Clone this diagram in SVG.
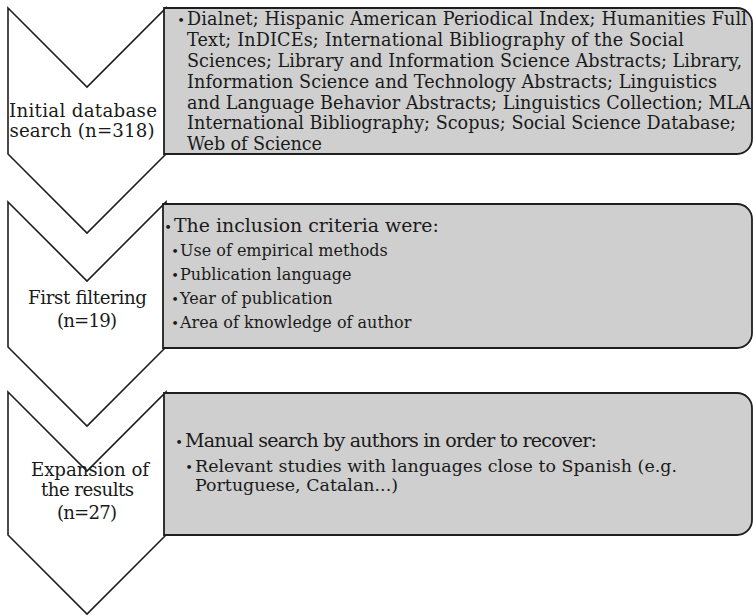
<svg xmlns="http://www.w3.org/2000/svg" width="753" height="616" viewBox="0 0 753 616">
<style>
.chev{fill:#ffffff;stroke:#1e1e1e;stroke-width:1.6;stroke-linejoin:miter}
.box{fill:#cfcfcf;stroke:#1e1e1e;stroke-width:1.8}
text{font-family:"DejaVu Serif","Liberation Serif",serif;fill:#1a1a1a}
.lbl{text-anchor:middle;font-size:18.2px}
.t1{font-size:17.6px}
.t2a{font-size:18.9px}
.t2b{font-size:16px}
.t3a{font-size:19px}
.t3b{font-size:17.4px}
.bul{text-anchor:middle;font-size:13px}
</style>
<rect width="753" height="616" fill="#ffffff"/>
<g id="connectors"></g>
<g id="step1">
<path class="chev" d="M8,8 L87,87 L166,8 V154 L87,233 L8,154 Z"/>
<text class="lbl" x="83" y="117" textLength="148" lengthAdjust="spacing">Initial database</text>
<text class="lbl" x="82" y="137" textLength="145" lengthAdjust="spacing">search (n=318)</text>
</g>
<g id="box1">
<path class="box" d="M164,8 H737 A15,15 0 0 1 752,23 V139 A15,15 0 0 1 737,154 H164 Z"/>
<text class="bul" x="181" y="25">•</text>
<text class="t1" x="187" y="25" textLength="560" lengthAdjust="spacing">Dialnet; Hispanic American Periodical Index; Humanities Full</text>
<text class="t1" x="187" y="46" textLength="497" lengthAdjust="spacing">Text; InDICEs; International Bibliography of the Social</text>
<text class="t1" x="187" y="67" textLength="555" lengthAdjust="spacing">Sciences; Library and Information Science Abstracts; Library,</text>
<text class="t1" x="187" y="87.5" textLength="530" lengthAdjust="spacing">Information Science and Technology Abstracts; Linguistics</text>
<text class="t1" x="187" y="108.5" textLength="564" lengthAdjust="spacing">and Language Behavior Abstracts; Linguistics Collection; MLA</text>
<text class="t1" x="187" y="129" textLength="549" lengthAdjust="spacing">International Bibliography; Scopus; Social Science Database;</text>
<text class="t1" x="187" y="150" textLength="135" lengthAdjust="spacing">Web of Science</text>
</g>
<g id="step2">
<path class="chev" d="M8,202 L87,281 L166,202 V347 L87,426 L8,347 Z"/>
<text class="lbl" x="87.5" y="304" textLength="119" lengthAdjust="spacing">First filtering</text>
<text class="lbl" x="87" y="327" textLength="60" lengthAdjust="spacing">(n=19)</text>
</g>
<g id="box2">
<path class="box" d="M163,204 H737 A15,15 0 0 1 752,219 V333 A15,15 0 0 1 737,348 H163 Z"/>
<text class="bul" x="168" y="232">•</text>
<text class="t2a" x="174" y="232">The inclusion criteria were:</text>
<text class="bul" x="175" y="256">•</text>
<text class="t2b" x="180" y="256">Use of empirical methods</text>
<text class="bul" x="175" y="280">•</text>
<text class="t2b" x="180" y="280">Publication language</text>
<text class="bul" x="175" y="304">•</text>
<text class="t2b" x="180" y="304">Year of publication</text>
<text class="bul" x="175" y="328">•</text>
<text class="t2b" x="180" y="328">Area of knowledge of author</text>
</g>
<g id="step3">
<path class="chev" d="M8,392 L87,471 L166,392 V535 L87,614 L8,535 Z"/>
<text class="lbl" x="90" y="476" textLength="118" lengthAdjust="spacing">Expansion of</text>
<text class="lbl" x="87.5" y="496" textLength="93" lengthAdjust="spacing">the results</text>
<text class="lbl" x="87" y="519" textLength="60" lengthAdjust="spacing">(n=27)</text>
</g>
<g id="box3">
<path class="box" d="M164,393 H737 A15,15 0 0 1 752,408 V520 A15,15 0 0 1 737,535 H164 Z"/>
<text class="bul" x="179" y="447">•</text>
<text class="t3a" x="185" y="447" textLength="412" lengthAdjust="spacing">Manual search by authors in order to recover:</text>
<text class="bul" x="189" y="472">•</text>
<text class="t3b" x="195" y="472" textLength="482" lengthAdjust="spacing">Relevant studies with languages close to Spanish (e.g.</text>
<text class="t3b" x="195" y="491" textLength="203" lengthAdjust="spacing">Portuguese, Catalan...)</text>
</g>
</svg>
